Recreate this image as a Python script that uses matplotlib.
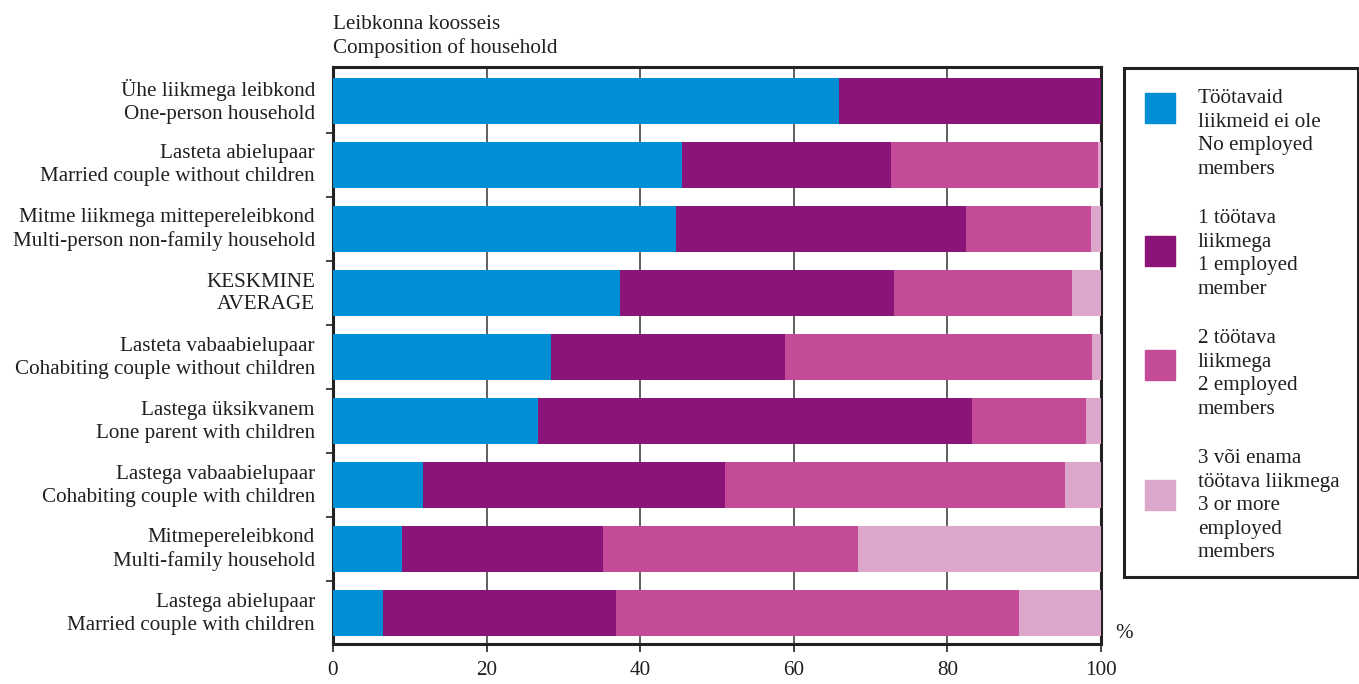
import matplotlib.pyplot as plt
import matplotlib.transforms as mtransforms
from matplotlib.patches import Rectangle

plt.rcParams['font.family'] = ['Liberation Serif', 'DejaVu Serif']

categories = [
    'Ühe liikmega leibkond\nOne-person household',
    'Lasteta abielupaar\nMarried couple without children',
    'Mitme liikmega mittepereleibkond\nMulti-person non-family household',
    'KESKMINE\nAVERAGE',
    'Lasteta vabaabielupaar\nCohabiting couple without children',
    'Lastega üksikvanem\nLone parent with children',
    'Lastega vabaabielupaar\nCohabiting couple with children',
    'Mitmepereleibkond\nMulti-family household',
    'Lastega abielupaar\nMarried couple with children',
]
no_employed = [65.9, 45.4, 44.7, 37.4, 28.4, 26.7, 11.7, 9.0, 6.5]
one_employed = [34.1, 27.3, 37.7, 35.7, 30.4, 56.5, 39.4, 26.2, 30.4]
two_employed = [0.0, 26.9, 16.3, 23.1, 40.0, 14.9, 44.2, 33.2, 52.4]
three_plus = [0.0, 0.4, 1.3, 3.8, 1.2, 1.9, 4.7, 31.6, 10.7]

series_labels = [
    'Töötavaid\nliikmeid ei ole\nNo employed\nmembers',
    '1 töötava\nliikmega\n1 employed\nmember',
    '2 töötava\nliikmega\n2 employed\nmembers',
    '3 või enama\ntöötava liikmega\n3 or more\nemployed\nmembers',
]
colors = ['#008ED4', '#8A1477', '#C44B98', '#DDA7CB']
xticks = [0, 20, 40, 60, 80, 100]

txt = '#231F20'
fs = 15.2
ls = 1.28

fig = plt.figure(figsize=(13.59, 6.84), dpi=100)
ax = fig.add_axes([333 / 1359, 1 - 644 / 684, (1101 - 333) / 1359, (644 - 67) / 684])

n = len(categories)
ypos = list(range(n - 1, -1, -1))
left = [0.0] * n
for vals, col in zip([no_employed, one_employed, two_employed, three_plus], colors):
    ax.barh(ypos, vals, left=left, height=0.72, color=col, zorder=3)
    left = [l + v for l, v in zip(left, vals)]

ax.set_xlim(0, 100)
ax.set_ylim(-0.48, n - 0.47)
ax.set_xticks(xticks)
ax.set_xticklabels([str(t) for t in xticks], fontsize=fs, color=txt)
ax.set_yticks(ypos)
ax.set_yticklabels(categories, fontsize=fs, color=txt, linespacing=ls)
ax.set_yticks([k + 0.5 for k in range(n - 1)], minor=True)
ax.tick_params(axis='y', which='major', length=0, pad=13)
ax.tick_params(axis='y', which='minor', length=5, width=1.2, color='#222222')
ax.tick_params(axis='x', length=6, width=1.2, color='#222222', pad=6)
ax.grid(axis='x', color='#444444', linewidth=1.2, zorder=0)
for s in ax.spines.values():
    s.set_linewidth(2.2)
    s.set_color('#222222')

# nudge the two-line category labels up a little
shift = mtransforms.ScaledTranslation(0, 4 / 100, fig.dpi_scale_trans)
for lab in ax.get_yticklabels():
    lab.set_transform(lab.get_transform() + shift)

fig.text(333 / 1359, 1 - 15 / 684, 'Leibkonna koosseis\nComposition of household',
         fontsize=fs, color=txt, va='top', ha='left', linespacing=ls)
fig.text(1115 / 1359, 1 - 634 / 684, '%', fontsize=fs, color=txt, va='center', ha='left')

# legend box
lg = fig.add_axes([1124 / 1359, 1 - 577 / 684, (1358 - 1124) / 1359, (577 - 68) / 684])
lg.set_xlim(0, 234)
lg.set_ylim(509, 0)
lg.set_xticks([])
lg.set_yticks([])
for s in lg.spines.values():
    s.set_linewidth(2.2)
    s.set_color('#222222')
patch_tops = [25, 168, 282, 412]
text_tops = [21, 141, 261, 381]
for col, lab, pt, tt in zip(colors, series_labels, patch_tops, text_tops):
    lg.add_patch(Rectangle((21, pt), 30, 30, color=col))
    lg.text(74, tt, lab, fontsize=fs, color=txt, va='top', ha='left', linespacing=1.33)

fig.savefig('out.png', dpi=100)
